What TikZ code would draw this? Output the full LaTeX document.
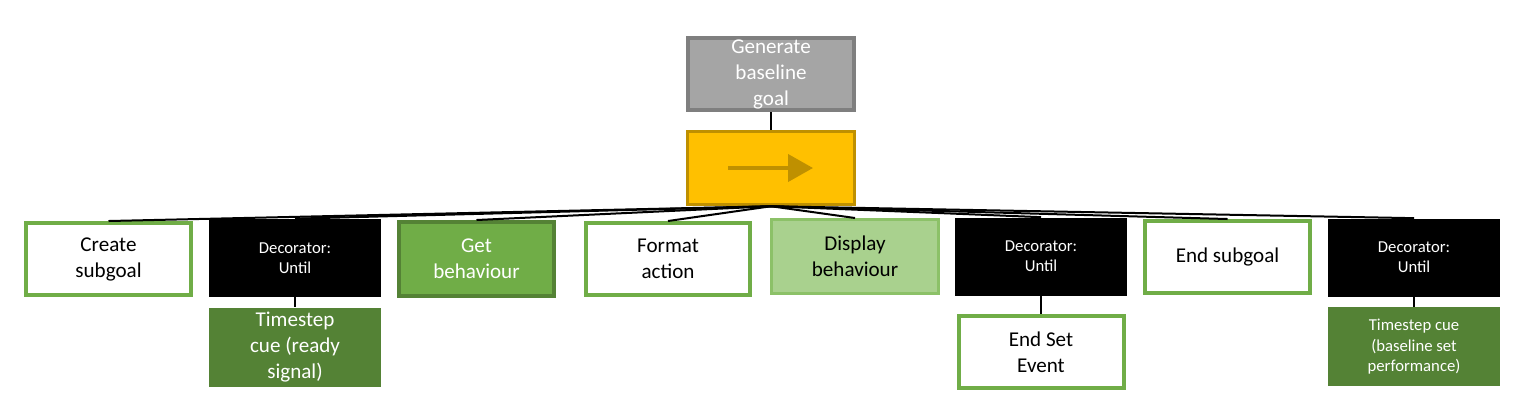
\documentclass[tikz,border=0pt]{standalone}
\usepackage{fontspec}
\setmainfont{Carlito}
\usepackage{tikz}
\usetikzlibrary{positioning,arrows.meta}

\definecolor{goalgray}{HTML}{A5A5A5}
\definecolor{goalline}{HTML}{7F7F7F}
\definecolor{seqfill}{HTML}{FFC000}
\definecolor{seqline}{HTML}{BF9000}
\definecolor{leafgreen}{HTML}{70AD47}
\definecolor{darkgreen}{HTML}{548235}
\definecolor{lightgreen}{HTML}{A9D18E}
\definecolor{lightline}{HTML}{8CC168}

\begin{document}
\begin{tikzpicture}[x=0.02cm,y=-0.02cm,
			boxnode/.style={rectangle, align=center, inner sep=1pt, font=\fontsize{12}{14.8}\selectfont},
			goalnode/.style={boxnode, fill=goalgray, draw=goalline, line width=0.08cm, text=white, minimum width=3.32cm, minimum height=1.44cm},
			seqnode/.style={boxnode, fill=seqfill, draw=seqline, line width=0.07cm, minimum width=3.34cm, minimum height=1.46cm},
			leafnode/.style={boxnode, fill=white, draw=leafgreen, line width=0.08cm, minimum width=3.3cm, minimum height=1.44cm},
			actnode/.style={boxnode, fill=leafgreen, draw=darkgreen, line width=0.08cm, text=white, minimum width=3.1cm, minimum height=1.48cm},
			shownode/.style={boxnode, fill=lightgreen, draw=lightline, line width=0.06cm, minimum width=3.34cm, minimum height=1.48cm},
			decnode/.style={boxnode, fill=black, text=white, minimum width=3.44cm, minimum height=1.56cm, font=\fontsize{9.5}{11.5}\selectfont},
			cuenode/.style={boxnode, fill=darkgreen, text=white, minimum width=3.44cm, minimum height=1.58cm},
			link/.style={black, line width=0.04cm},
		]
		
			\useasboundingbox (0,0) rectangle (1537,417);
		
			%Nodes
			\node[goalnode]		(goal)	at (771,74)		{Generate\\baseline\\goal};
			\node[seqnode]		(seq)	at (771,168)	{};
			
			\node[leafnode]		(create)	at (108.5,259)	{Create\\subgoal};
			\node[decnode]		(until1)	at (295,258)	{Decorator:\\Until};
			\node[cuenode]		(ready)[below=0.2cm of until1]	{Timestep\\cue (ready\\signal)};
			\node[actnode]		(get)		at (476.5,259)	{Get\\behaviour};
			\node[leafnode]		(format)	at (668,259)	{Format\\action};
			\node[shownode]		(display)	at (855,256.5)	{Display\\behaviour};
			\node[decnode]		(until2)	at (1041,256.5)	{Decorator:\\Until};
			\node[leafnode]		(endset)[below=0.36cm of until2]	{End Set\\Event};
			\node[leafnode]		(endsub)	at (1227.5,257)	{End subgoal};
			\node[decnode]		(until3)	at (1414,257.5)	{Decorator:\\Until};
			\node[cuenode, font=\fontsize{9.5}{11.5}\selectfont]	(baseline)[below=0.2cm of until3]	{Timestep cue\\(baseline set\\performance)};
		
			%Sequence arrow
			\draw[seqline, line width=0.08cm, -{Triangle[length=0.5cm, width=0.54cm]}]	(seq.center) ++(-43,0) -- ++(85,0);
		
			%Lines
			\draw[link]	(goal.south) -- (seq.north);
			\foreach \n in {create,until1,get,format,display,until2,endsub,until3}
				\draw[link]	(seq.south) -- (\n.north);
			\draw[link]	(until1.south) -- (ready.north);
			\draw[link]	(until2.south) -- (endset.north);
			\draw[link]	(until3.south) -- (baseline.north);
		
		\end{tikzpicture}
\end{document}
